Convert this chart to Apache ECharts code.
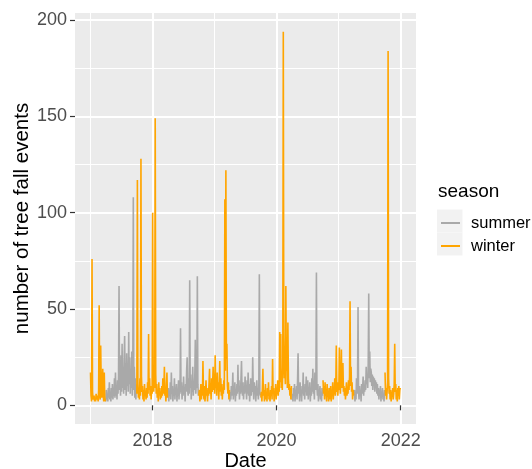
<!DOCTYPE html>
<html><head><meta charset="utf-8">
<script src="https://cdn.jsdelivr.net/npm/echarts@6/dist/echarts.min.js"></script>
<style>html,body{margin:0;padding:0;background:#fff}#c{width:532px;height:469px}</style>
</head><body><div id="c"></div>
<script>
// Daily tree fall events at a 3-day step, per season period
const STEP_DAYS = 3;
const winter2017a = [17,5,2,76,7,3,2,5,2,4,2,6,3,2,5,2,8,52,5,3,31,11,4,8,19,5,2,17,4,2];
const summer2017 = [2,8,3,6,2,9,4,12,3,7,2,9,4,11,3,8,5,14,4,17,5,10,3,13,6,15,62,8,18,5,26,7,32,9,20,6,24,36,8,22,5,27,10,18,7,38,11,25,6,19,9,28,5,15,108,8,20,4,14,3,11];
const winter2017b = [6,117,12,4,9,3,14,5,128,15,7,10,3,8,2,11,5,7,3,9,4,12,6,37,8,14,5,10,3,9,6,100,13,7,18,9,149,16,6,11,4,8,2,12,5,9,3,7,4,10,5,14,6,9,20,5,8,2,11,17,4];
const summer2018 = [4,9,2,7,5,12,3,17,6,10,2,8,5,14,3,9,6,11,2,8,5,13,3,9,6,40,7,12,3,10,5,15,6,9,2,11,7,18,25,8,5,14,6,65,9,16,3,12,7,20,5,10,8,15,34,6,12,9,67,11,5];
const winter2018 = [5,8,2,6,11,3,9,5,23,7,3,10,2,6,13,5,8,2,9,5,12,19,6,10,3,14,7,11,20,8,15,6,26,9,13,5,17,8,12,3,10,23,7,14,5,11,3,9,6,13,8,107,18,122,24,32,10,6,12,3,8];
const summer2019 = [2,7,3,10,5,8,17,3,9,6,12,2,8,5,11,6,21,7,13,3,9,6,14,23,8,5,12,3,10,6,15,7,9,3,13,6,17,5,11,2,8,14,5,10,7,25,9,3,12,6,10,2,8,13,5,9,3,11,68,7,5];
const winter2019 = [4,7,2,9,19,5,8,2,6,11,3,7,2,9,5,12,3,6,2,8,5,10,3,24,6,9,2,7,5,11,3,8,6,13,5,10,7,38,12,37,9,15,8,20,194,35,14,22,11,62,18,25,9,43,14,8,11,5,9,3,10];
const summer2020 = [3,6,2,9,5,11,2,7,5,10,3,13,27,6,9,2,12,5,8,2,10,6,17,5,9,3,11,7,15,5,8,13,3,9,6,12,2,8,5,14,7,19,6,10,3,17,8,12,69,9,5,11,2,8,6,10,3,7,2,9,5];
const winter2020 = [13,6,10,3,12,5,8,2,11,5,7,2,9,3,6,10,2,7,5,12,3,8,6,14,5,9,31,7,12,5,10,8,30,11,6,14,29,9,13,22,7,10,5,9,3,8,12,5,9,6,13,8,15,54,10,20,7,12,3,8,5];
const summer2021 = [5,8,2,7,3,14,6,9,51,7,3,10,5,8,2,11,6,9,15,5,10,7,13,8,20,11,16,9,22,58,14,28,12,19,17,10,16,8,15,11,14,7,13,9,12,6,11,5,9,3,8,6,10,2,7,5,9,3,6,2,8];
const winter2021 = [17,5,9,3,7,12,184,14,6,10,3,8,2,7,5,9,3,6,11,32,7,11,3,8,2,9,5,10,3,8,9];

const periods = [
  {season:'winter', start:[2017,0,1], values:winter2017a},
  {season:'summer', start:[2017,3,1], values:summer2017},
  {season:'winter', start:[2017,9,1], values:winter2017b},
  {season:'summer', start:[2018,3,1], values:summer2018},
  {season:'winter', start:[2018,9,1], values:winter2018},
  {season:'summer', start:[2019,3,1], values:summer2019},
  {season:'winter', start:[2019,9,1], values:winter2019},
  {season:'summer', start:[2020,3,1], values:summer2020},
  {season:'winter', start:[2020,9,1], values:winter2020},
  {season:'summer', start:[2021,3,1], values:summer2021},
  {season:'winter', start:[2021,9,1], values:winter2021}
];
const seasons = ['summer','winter'];
const seasonColors = {summer:'#A9A9A9', winter:'#FFA500'};
const xMajorYears = [2018, 2020, 2022];
const xMinorYears = [2017, 2019, 2021];
const yMajorTicks = [0, 50, 100, 150, 200];
const yMinorTicks = [25, 75, 125, 175];
const dateFirst = [2017,0,1], dateLast = [2021,11,31];

const FONT = '"Liberation Sans", Arial, Helvetica, sans-serif';
const ts = (a) => new Date(a[0], a[1], a[2]).getTime();

const seriesData = {summer:[], winter:[]};
periods.forEach(p => {
  const arr = seriesData[p.season];
  if (arr.length) arr.push([ts(p.start) - 86400000, '-']);
  p.values.forEach((v, i) => {
    arr.push([new Date(p.start[0], p.start[1], p.start[2] + i*STEP_DAYS).getTime(), v]);
  });
});
const allVals = periods.reduce((a, p) => a.concat(p.values), []);
const vMax = Math.max(...allVals), vMin = Math.min(0, ...allVals);
const yPad = 0.05 * (vMax - vMin);
const xStart = ts(dateFirst), xEnd = ts(dateLast);
const xPad = 0.05 * (xEnd - xStart);

const xMajor = xMajorYears.map(y => new Date(y,0,1).getTime());
const xMinor = xMinorYears.map(y => new Date(y,0,1).getTime());

const chart = echarts.init(document.getElementById('c'), null, {renderer:'canvas'});
chart.setOption({
  animation:false,
  backgroundColor:'#ffffff',
  grid:{left:75, right:116, top:13, bottom:45, outerBoundsMode:'none', containLabel:false,
        show:true, backgroundColor:'#EBEBEB', borderWidth:0},
  xAxis:[
    {type:'value', min:xStart - xPad, max:xEnd + xPad, position:'bottom',
     axisLine:{show:false},
     axisTick:{show:true, length:5, lineStyle:{color:'#333333', width:1.2}, customValues:xMajor},
     axisLabel:{customValues:xMajor, formatter:(v)=>String(new Date(v).getFullYear()), color:'#4D4D4D', fontSize:18, fontFamily:FONT, margin:8},
     splitLine:{show:true, lineStyle:{color:'#ffffff', width:2}},
     name:'Date', nameLocation:'middle', nameGap:27, nameMoveOverlap:false,
     nameTextStyle:{color:'#000', fontSize:20, fontFamily:FONT}},
    {type:'value', min:xStart - xPad, max:xEnd + xPad, position:'bottom',
     axisLine:{show:false}, axisTick:{show:false, customValues:xMinor},
     axisLabel:{show:false, customValues:xMinor},
     splitLine:{show:true, lineStyle:{color:'#ffffff', width:1}}}
  ],
  yAxis:[
    {type:'value', min:vMin - yPad, max:vMax + yPad,
     axisLine:{show:false},
     axisTick:{show:true, length:5, lineStyle:{color:'#333333', width:1.2}, customValues:yMajorTicks},
     axisLabel:{customValues:yMajorTicks, color:'#4D4D4D', fontSize:18, fontFamily:FONT, margin:8},
     splitLine:{show:true, lineStyle:{color:'#ffffff', width:2}},
     name:'number of tree fall events', nameLocation:'middle', nameGap:42, nameRotate:90, nameMoveOverlap:false,
     nameTextStyle:{color:'#000', fontSize:20.5, fontFamily:FONT}},
    {type:'value', min:vMin - yPad, max:vMax + yPad,
     axisLine:{show:false}, axisTick:{show:false, customValues:yMinorTicks},
     axisLabel:{show:false, customValues:yMinorTicks},
     splitLine:{show:true, lineStyle:{color:'#ffffff', width:1}}}
  ],
  legend:{orient:'vertical', left:441, top:214, padding:0, itemWidth:19, itemHeight:2, itemGap:5, icon:'rect',
    data:seasons, textStyle:{fontSize:16.5, color:'#000', fontFamily:FONT, lineHeight:18, padding:[0,0,0,6]}},
  graphic:[
    {type:'rect', z:1, shape:{x:437, y:209.5, width:25.5, height:23}, style:{fill:'#F2F2F2'}},
    {type:'rect', z:1, shape:{x:437, y:232.5, width:25.5, height:23}, style:{fill:'#F2F2F2'}},
    {type:'text', z:5, style:{text:'season', x:438, y:192, fontSize:19, fontFamily:FONT, fill:'#000', verticalAlign:'middle'}}
  ],
  series: seasons.map(s => ({
    type:'line', name:s, xAxisIndex:0, yAxisIndex:0, data:seriesData[s],
    showSymbol:false, symbol:'none', connectNulls:false,
    lineStyle:{color:seasonColors[s], width:1.6}, itemStyle:{color:seasonColors[s]}
  }))
});
</script></body></html>
